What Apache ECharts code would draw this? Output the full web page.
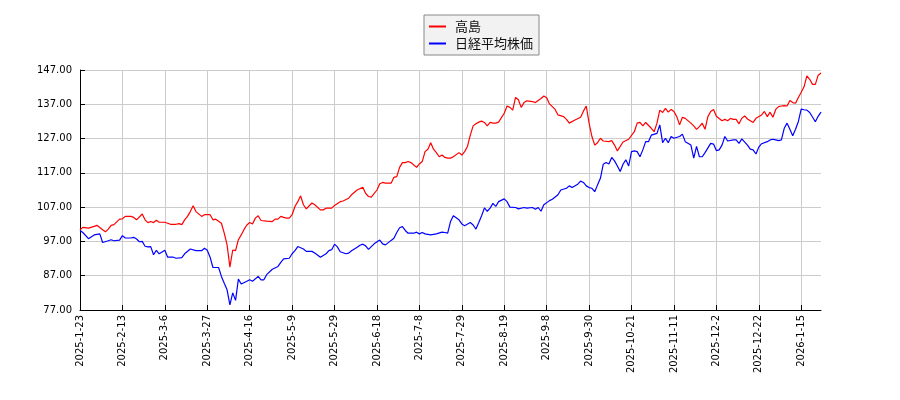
<!DOCTYPE html>
<html>
<head>
<meta charset="utf-8">
<title>高島 vs 日経平均株価</title>
<script src="https://cdn.jsdelivr.net/npm/echarts@6/dist/echarts.min.js"></script>
<style>
  html, body { margin: 0; padding: 0; background: #fff; }
  #chart { width: 900px; height: 400px; }
</style>
</head>
<body>
<div id="chart"></div>
<script>
// x = trading-day index, labels every 15 trading days
const tickLabels = ['2025-1-23', '2025-2-13', '2025-3-6', '2025-3-27', '2025-4-16', '2025-5-9',
  '2025-5-29', '2025-6-18', '2025-7-8', '2025-7-29', '2025-8-19', '2025-9-8', '2025-9-30',
  '2025-10-21', '2025-11-11', '2025-12-2', '2025-12-22', '2026-1-15'];
const dayCount = 263;
const tickStep = 15;

const seriesNames = ['高島', '日経平均株価'];

// 高島 [day, price]
const takashimaPoints = [
  [0, 100.4], [1, 101.1], [3, 100.9], [5, 101.4], [6, 101.7], [8, 100.4], [9, 99.8], [10, 100.6],
  [11, 101.7], [12, 101.9], [14, 103.5], [15, 103.6], [16, 104.3], [18, 104.3], [19, 104.0], [20, 103.3],
  [22, 105.0], [23, 103.3], [24, 102.5], [25, 102.8], [26, 102.5], [27, 103.2], [28, 102.6], [30, 102.6],
  [32, 102.0], [34, 102.0], [35, 102.2], [36, 101.9], [37, 103.3], [38, 104.3], [39, 105.7], [40, 107.4],
  [41, 105.7], [43, 104.3], [44, 104.8], [46, 104.8], [47, 103.3], [48, 103.5], [50, 102.3], [51, 99.4],
  [52, 96.0], [53, 89.5], [54, 94.5], [55, 94.3], [56, 97.5], [57, 98.9], [58, 100.5], [59, 101.8],
  [60, 102.5], [61, 102.1], [62, 103.8], [63, 104.5], [64, 103.1], [66, 102.9], [68, 102.8], [69, 103.5],
  [70, 103.5], [71, 104.3], [72, 104.0], [73, 103.8], [74, 103.8], [75, 104.8], [76, 107.2], [77, 108.6],
  [78, 110.3], [79, 107.7], [80, 106.5], [82, 108.2], [83, 107.7], [85, 106.2], [86, 106.2], [87, 106.7],
  [89, 106.7], [90, 107.5], [92, 108.6], [93, 108.8], [95, 109.6], [96, 110.6], [98, 112.0], [100, 112.8],
  [101, 111.0], [102, 110.1], [103, 109.9], [105, 112.0], [106, 113.8], [107, 114.2], [108, 114.0], [110, 114.0],
  [111, 115.7], [112, 115.9], [113, 118.6], [114, 120.0], [115, 120.0], [116, 120.3], [117, 120.0], [119, 118.6],
  [120, 119.6], [121, 120.3], [122, 123.2], [123, 123.9], [124, 125.8], [125, 123.9], [126, 122.9], [127, 121.7],
  [128, 122.2], [129, 121.5], [130, 121.3], [131, 121.3], [132, 121.7], [134, 122.9], [135, 122.2], [136, 123.2],
  [137, 124.7], [138, 128.0], [139, 130.7], [140, 131.3], [141, 131.8], [142, 132.1], [143, 131.7], [144, 130.7],
  [145, 131.7], [146, 131.5], [147, 131.5], [148, 131.8], [150, 134.4], [151, 136.5], [152, 136.1], [153, 135.3],
  [154, 139.0], [155, 138.3], [156, 136.1], [157, 137.5], [158, 138.0], [160, 137.8], [161, 137.5], [162, 138.1],
  [163, 138.7], [164, 139.4], [165, 138.9], [166, 137.1], [168, 135.5], [169, 133.9], [171, 133.4], [172, 132.6],
  [173, 131.5], [175, 132.4], [177, 133.2], [178, 135.0], [179, 136.5], [180, 131.5], [181, 127.6], [182, 125.1],
  [183, 125.8], [184, 127.1], [185, 126.3], [187, 126.1], [188, 126.4], [189, 125.1], [190, 123.4], [192, 126.0],
  [194, 126.8], [196, 129.0], [197, 131.5], [198, 131.7], [199, 130.7], [200, 131.7], [202, 130.0], [203, 129.0],
  [204, 131.5], [205, 135.3], [206, 134.6], [207, 135.8], [208, 134.7], [209, 135.5], [210, 134.9], [211, 133.4],
  [212, 131.0], [213, 133.2], [214, 132.9], [216, 131.5], [217, 130.7], [218, 129.7], [219, 130.5], [220, 131.5],
  [221, 129.7], [222, 133.4], [223, 134.9], [224, 135.5], [225, 133.5], [227, 132.2], [228, 132.6], [229, 132.2],
  [230, 132.9], [231, 132.6], [232, 132.6], [233, 131.3], [234, 132.9], [235, 133.6], [236, 132.7], [238, 131.7],
  [239, 132.9], [241, 133.9], [242, 134.9], [243, 133.4], [244, 134.7], [245, 133.2], [246, 135.5], [247, 136.3],
  [248, 136.5], [249, 136.6], [250, 136.5], [251, 138.1], [252, 137.5], [253, 137.3], [254, 139.0], [255, 140.5],
  [256, 142.1], [257, 145.3], [258, 144.3], [259, 142.8], [260, 142.8], [261, 145.5], [262, 146.1]
];

// 日経平均株価 (scaled) [day, value]
const nikkeiPoints = [
  [0, 100.2], [1, 99.6], [3, 97.8], [5, 98.9], [7, 99.2], [8, 96.7], [10, 97.2], [11, 97.5],
  [12, 97.2], [14, 97.4], [15, 98.7], [16, 98.0], [18, 98.0], [19, 98.2], [20, 97.7], [21, 96.9],
  [22, 97.0], [23, 95.6], [24, 95.4], [25, 95.5], [26, 93.1], [27, 94.4], [28, 93.4], [30, 94.4],
  [31, 92.4], [33, 92.4], [34, 92.1], [36, 92.3], [37, 93.4], [39, 94.8], [41, 94.3], [43, 94.3],
  [44, 95.0], [45, 94.4], [46, 92.4], [47, 89.4], [49, 89.4], [50, 86.8], [51, 84.8], [52, 82.9],
  [53, 78.5], [54, 82.0], [55, 79.8], [56, 86.0], [57, 84.6], [59, 85.4], [60, 85.8], [61, 85.4],
  [63, 86.8], [64, 85.8], [65, 85.8], [66, 87.3], [68, 88.9], [70, 89.7], [71, 90.9], [72, 91.9],
  [74, 92.1], [75, 93.4], [76, 94.3], [77, 95.5], [79, 94.8], [80, 94.1], [82, 94.1], [83, 93.6],
  [85, 92.4], [87, 93.4], [88, 94.3], [89, 94.6], [90, 96.2], [91, 95.4], [92, 94.0], [94, 93.4],
  [95, 93.6], [96, 94.3], [98, 95.3], [99, 95.9], [100, 96.2], [101, 95.7], [102, 94.7], [104, 96.3],
  [106, 97.4], [107, 96.3], [108, 96.0], [110, 97.3], [111, 97.9], [112, 99.6], [113, 101.0], [114, 101.3],
  [115, 100.2], [116, 99.4], [118, 99.4], [119, 99.7], [120, 99.2], [121, 99.6], [122, 99.2], [124, 98.9],
  [126, 99.2], [128, 99.7], [129, 99.6], [130, 99.4], [131, 102.8], [132, 104.5], [134, 103.3], [135, 102.1],
  [136, 101.6], [138, 102.5], [139, 101.8], [140, 100.6], [141, 102.5], [142, 104.5], [143, 106.8], [144, 105.8],
  [145, 106.7], [146, 108.1], [147, 107.2], [148, 108.6], [150, 109.4], [151, 108.6], [152, 107.0], [154, 106.9],
  [155, 106.5], [157, 106.9], [158, 106.7], [160, 106.9], [161, 106.4], [162, 106.9], [163, 105.8], [164, 107.7],
  [166, 108.9], [167, 109.3], [169, 110.6], [170, 112.0], [172, 112.5], [173, 113.2], [174, 112.7], [176, 113.7],
  [177, 114.6], [178, 114.2], [179, 113.2], [180, 112.7], [181, 112.5], [182, 111.5], [183, 113.5], [184, 115.4],
  [185, 119.5], [186, 120.0], [187, 119.6], [188, 121.5], [189, 120.5], [190, 119.0], [191, 117.4], [192, 119.5],
  [193, 120.8], [194, 119.0], [195, 123.2], [196, 123.4], [197, 123.2], [198, 121.7], [199, 123.7], [200, 126.1],
  [201, 126.1], [202, 128.0], [204, 128.5], [205, 131.0], [206, 125.8], [207, 127.1], [208, 125.8], [209, 127.6],
  [210, 127.1], [212, 127.6], [213, 128.3], [214, 126.1], [216, 125.1], [217, 121.3], [218, 124.7], [219, 121.7],
  [220, 121.7], [221, 122.9], [223, 125.6], [224, 125.4], [225, 123.5], [226, 123.7], [227, 125.1], [228, 127.6],
  [229, 126.3], [231, 126.6], [232, 126.6], [233, 125.6], [234, 126.9], [236, 125.1], [237, 123.9], [238, 123.7],
  [239, 122.5], [240, 124.5], [241, 125.5], [243, 126.1], [244, 126.6], [245, 126.8], [246, 126.6], [247, 126.4],
  [248, 126.6], [249, 130.0], [250, 131.5], [251, 129.7], [252, 127.8], [253, 129.7], [254, 132.0], [255, 135.6],
  [256, 135.4], [257, 135.3], [258, 134.6], [259, 133.3], [260, 131.9], [261, 133.5], [262, 134.7]
];

const yMin = 77;
const yMax = 147;
const yStep = 10;

const dayCategories = Array.from({ length: dayCount }, (_, i) => String(i));
const isTickDay = (index) => index % tickStep === 0;

const chart = echarts.init(document.getElementById('chart'), null, { renderer: 'canvas' });

const axisFont = { fontFamily: 'DejaVu Sans', fontSize: 10, color: '#000' };

const option = {
  animation: false,
  backgroundColor: '#fff',
  grid: { left: 80, right: 79, top: 70, bottom: 90, containLabel: false },
  legend: {
    data: seriesNames,
    orient: 'vertical',
    left: 424,
    top: 15,
    icon: 'rect',
    itemWidth: 17,
    itemHeight: 2,
    itemGap: 4,
    padding: [5, 6, 5, 5],
    backgroundColor: '#f2f2f2',
    borderColor: '#888',
    borderWidth: 1,
    borderRadius: 0,
    textStyle: {
      fontFamily: 'Noto Sans CJK JP',
      fontSize: 13,
      color: '#111',
      padding: [0, 0, 0, 4]
    }
  },
  xAxis: {
    type: 'category',
    data: dayCategories,
    boundaryGap: false,
    axisLine: { lineStyle: { color: '#000', width: 1 } },
    axisTick: { inside: true, length: 5, interval: isTickDay, lineStyle: { color: '#000' } },
    axisLabel: Object.assign({
      interval: isTickDay,
      rotate: 90,
      margin: 5,
      formatter: (value, index) => tickLabels[index / tickStep] || ''
    }, axisFont),
    splitLine: { show: true, interval: isTickDay, lineStyle: { color: '#cccccc', width: 1 } }
  },
  yAxis: {
    type: 'value',
    min: yMin,
    max: yMax,
    interval: yStep,
    axisLine: { show: true, lineStyle: { color: '#000', width: 1 } },
    axisTick: { show: true, inside: true, length: 5, lineStyle: { color: '#000' } },
    axisLabel: Object.assign({
      margin: 8,
      formatter: (v) => v.toFixed(2)
    }, axisFont),
    splitLine: { show: true, lineStyle: { color: '#cccccc', width: 1 } }
  },
  series: [
    {
      name: seriesNames[0],
      type: 'line',
      data: takashimaPoints,
      symbol: 'none',
      color: '#ff0000',
      lineStyle: { color: '#ff0000', width: 1.2 }
    },
    {
      name: seriesNames[1],
      type: 'line',
      data: nikkeiPoints,
      symbol: 'none',
      color: '#0000ff',
      lineStyle: { color: '#0000ff', width: 1.2 }
    }
  ]
};

chart.setOption(option);
</script>
</body>
</html>
